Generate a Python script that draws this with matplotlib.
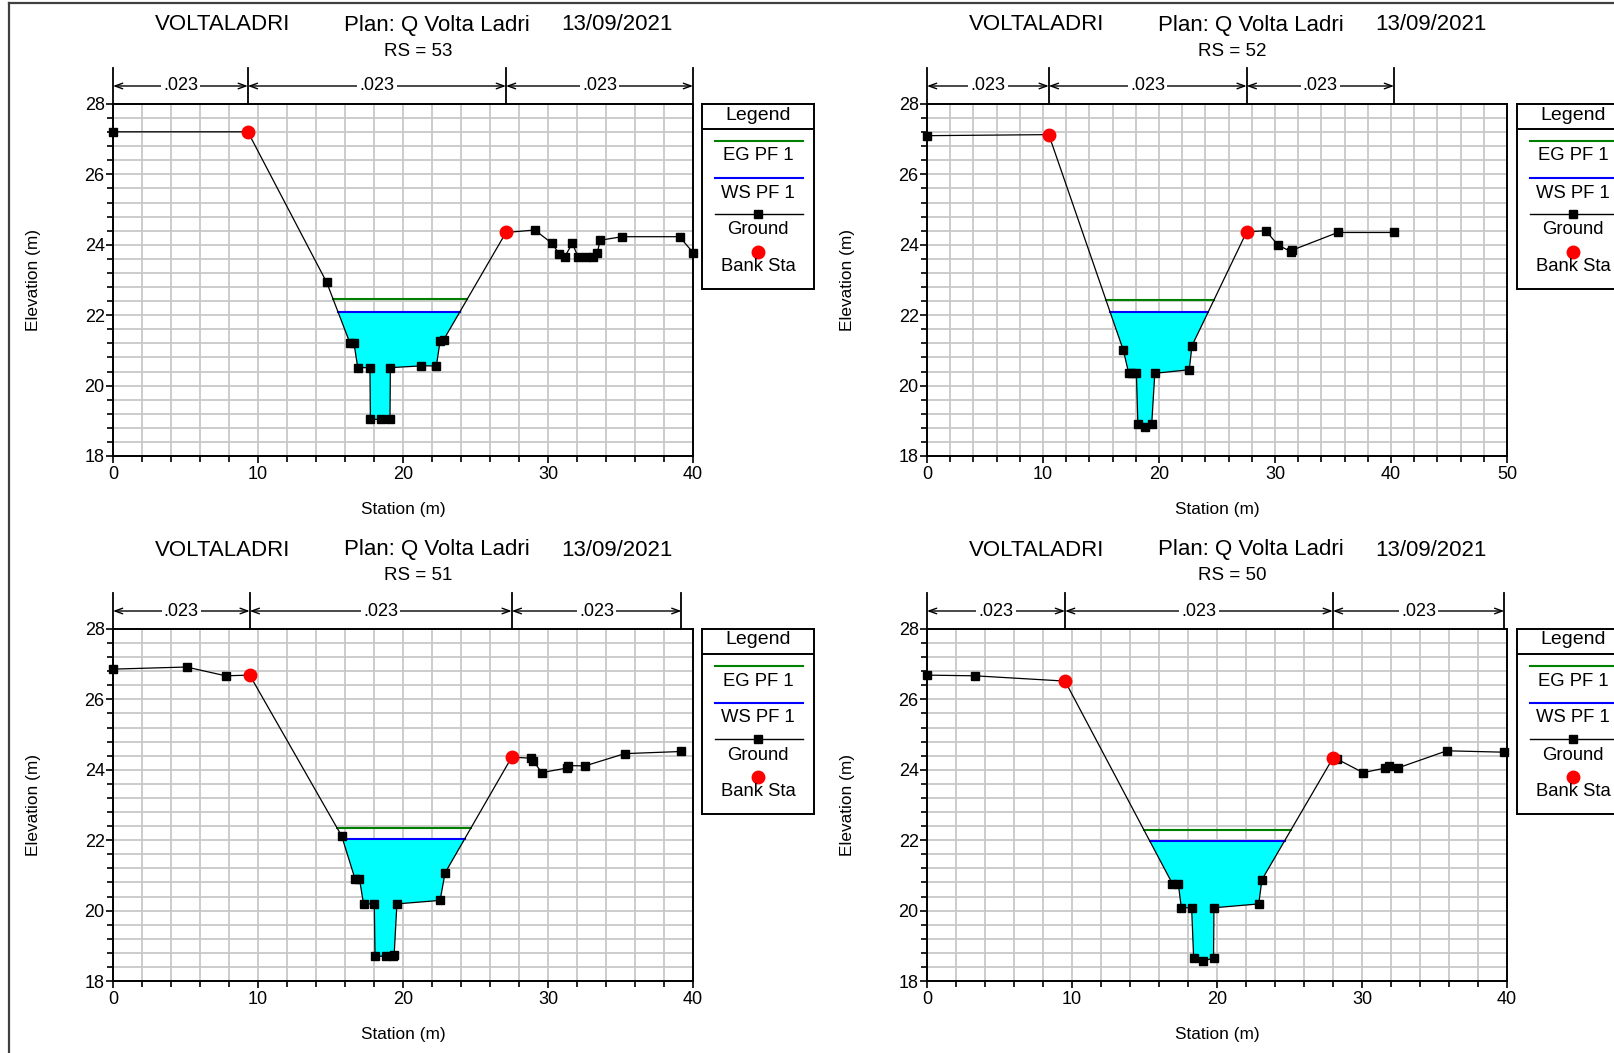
import numpy as np
import matplotlib
matplotlib.use("Agg")
import matplotlib.pyplot as plt
from matplotlib.lines import Line2D

plt.rcParams["font.family"] = ["Liberation Sans", "DejaVu Sans"]

W, H = 1615, 1053

river = "VOLTALADRI"
plan = "Plan: Q Volta Ladri"
run_date = "13/09/2021"
manning_n = ".023"

# Cross-section RS = 53
rs53_sta = [0, 9.30, 14.74, 16.35, 16.62, 16.88, 17.72, 17.75, 18.47, 19.10, 19.13,
            21.24, 22.30, 22.56, 22.80, 27.10, 29.09, 30.28, 30.75, 31.15, 31.68,
            32.07, 32.60, 33.13, 33.40, 33.60, 35.11, 39.07, 40.00]
rs53_elev = [27.21, 27.21, 22.93, 21.20, 21.20, 20.51, 20.51, 19.04, 19.04, 19.04, 20.51,
             20.56, 20.56, 21.27, 21.30, 24.35, 24.42, 24.04, 23.75, 23.66, 24.04,
             23.66, 23.66, 23.66, 23.78, 24.13, 24.23, 24.23, 23.78]
rs53_banks = [9.30, 27.10]
rs53_ws, rs53_eg = 22.10, 22.45

# Cross-section RS = 52
rs52_sta = [0, 10.50, 16.93, 17.39, 17.70, 18.05, 18.18, 18.81, 19.37, 19.64, 22.61,
            22.84, 27.56, 29.21, 30.26, 31.42, 31.50, 35.41, 40.26]
rs52_elev = [27.10, 27.13, 21.00, 20.35, 20.35, 20.35, 18.90, 18.82, 18.90, 20.35, 20.45,
             21.13, 24.37, 24.40, 23.99, 23.80, 23.85, 24.35, 24.35]
rs52_banks = [10.50, 27.56]
rs52_ws, rs52_eg = 22.10, 22.42

# Cross-section RS = 51
rs51_sta = [0, 5.07, 7.77, 9.43, 15.77, 16.70, 17.00, 17.28, 18.02, 18.07, 18.81, 19.30,
            19.39, 19.58, 22.56, 22.90, 27.50, 28.82, 29.00, 29.56, 31.30, 31.41,
            32.55, 35.30, 39.20]
rs51_elev = [26.86, 26.92, 26.67, 26.69, 22.12, 20.89, 20.89, 20.19, 20.19, 18.71, 18.70,
             18.72, 18.74, 20.19, 20.29, 21.07, 24.36, 24.33, 24.25, 23.92, 24.05,
             24.12, 24.11, 24.46, 24.52]
rs51_banks = [9.43, 27.50]
rs51_ws, rs51_eg = 22.04, 22.35

# Cross-section RS = 50
rs50_sta = [0, 3.31, 9.52, 16.93, 17.33, 17.54, 18.25, 18.39, 19.05, 19.76, 19.79,
            22.88, 23.10, 27.99, 28.30, 30.08, 31.61, 31.88, 32.46, 35.85, 39.81]
rs50_elev = [26.69, 26.67, 26.52, 20.76, 20.76, 20.08, 20.08, 18.65, 18.57, 18.65, 20.08,
             20.19, 20.88, 24.33, 24.30, 23.92, 24.05, 24.10, 24.05, 24.54, 24.50]
rs50_banks = [9.52, 27.99]
rs50_ws, rs50_eg = 21.98, 22.30

panels = [
    dict(rs="53", sta=rs53_sta, elev=rs53_elev, banks=rs53_banks, ws=rs53_ws, eg=rs53_eg,
         xmax=40, ax_box=(113, 104, 693, 456), leg_x=702, dx=0, dy=0),
    dict(rs="52", sta=rs52_sta, elev=rs52_elev, banks=rs52_banks, ws=rs52_ws, eg=rs52_eg,
         xmax=50, ax_box=(927, 104, 1507, 456), leg_x=1517, dx=814, dy=0),
    dict(rs="51", sta=rs51_sta, elev=rs51_elev, banks=rs51_banks, ws=rs51_ws, eg=rs51_eg,
         xmax=40, ax_box=(113, 629, 693, 981), leg_x=702, dx=0, dy=525),
    dict(rs="50", sta=rs50_sta, elev=rs50_elev, banks=rs50_banks, ws=rs50_ws, eg=rs50_eg,
         xmax=40, ax_box=(927, 629, 1507, 981), leg_x=1517, dx=814, dy=525),
]


def fig_box(x0, y0, x1, y1):
    return [x0 / W, 1 - y1 / H, (x1 - x0) / W, (y1 - y0) / H]


def waterline(sta, elev, level):
    """Left and right stations where the water level meets the ground."""
    sta = np.asarray(sta, float)
    elev = np.asarray(elev, float)
    i0 = int(np.argmin(elev))
    i = i0
    while i > 0 and elev[i - 1] < level:
        i -= 1
    a, b = i - 1, i
    xl = sta[a] + (level - elev[a]) * (sta[b] - sta[a]) / (elev[b] - elev[a])
    j = i0
    while j < len(sta) - 1 and elev[j + 1] < level:
        j += 1
    a, b = j, j + 1
    xr = sta[a] + (level - elev[a]) * (sta[b] - sta[a]) / (elev[b] - elev[a])
    return xl, xr, i, j


fig = plt.figure(figsize=(W / 100, H / 100), dpi=100)

# outer frame
fig.add_artist(Line2D([9 / W, 9 / W], [0, 1 - 3 / H], transform=fig.transFigure,
                      color="#404040", lw=1.6))
fig.add_artist(Line2D([9 / W, 1], [1 - 3 / H, 1 - 3 / H], transform=fig.transFigure,
                      color="#404040", lw=1.6))

for p in panels:
    x0, y0, x1, y1 = p["ax_box"]
    ax = fig.add_axes(fig_box(x0, y0, x1, y1))
    ax.set_xlim(0, p["xmax"])
    ax.set_ylim(18, 28)
    ax.set_xticks(np.arange(0, p["xmax"] + 0.1, 10))
    ax.set_xticks(np.arange(0, p["xmax"] + 0.1, 2), minor=True)
    ax.set_yticks(np.arange(18, 28.1, 2))
    ax.set_yticks(np.arange(18, 28.01, 0.4), minor=True)
    ax.grid(which="both", color="#c8c8c8", lw=1.3, zorder=0)
    ax.set_axisbelow(True)
    ax.tick_params(which="both", direction="out", width=1.2, labelsize=13)
    ax.tick_params(which="major", length=5)
    ax.tick_params(which="minor", length=4)
    ax.tick_params(axis="y", pad=1)
    ax.tick_params(axis="x", pad=2)
    for s in ax.spines.values():
        s.set_linewidth(1.4)
    ax.set_xlabel("Station (m)", fontsize=12.4, labelpad=14)
    ax.set_ylabel("Elevation (m)", fontsize=12.4, labelpad=31)

    sta = np.asarray(p["sta"], float)
    elev = np.asarray(p["elev"], float)

    # water surface fill and lines
    xl, xr, i, j = waterline(sta, elev, p["ws"])
    px = np.concatenate([[xl], sta[i:j + 1], [xr]])
    py = np.concatenate([[p["ws"]], elev[i:j + 1], [p["ws"]]])
    ax.fill(px, py, color="#00ffff", zorder=2, lw=0)
    ax.plot([xl, xr], [p["ws"], p["ws"]], color="#0000ff", lw=1.5, zorder=3)
    el, er, _, _ = waterline(sta, elev, p["eg"])
    ax.plot([el, er], [p["eg"], p["eg"]], color="#008000", lw=1.5, zorder=3)

    # ground
    ax.plot(sta, elev, color="black", lw=0.9, marker="s", ms=6, mfc="black",
            mec="black", zorder=4, clip_on=False)
    ax.plot(p["banks"], np.interp(p["banks"], sta, elev), "o", color="#ff0000",
            ms=9, zorder=5, clip_on=False)

    # Manning's n brackets
    trans = ax.get_xaxis_transform()
    hpx = y1 - y0
    top = 1 + 36 / hpx
    arr = 1 + 18 / hpx
    bounds = [0, p["banks"][0], p["banks"][1], sta[-1]]
    for xb in bounds:
        ax.plot([xb, xb], [1, top], transform=trans, color="black", lw=1.3,
                clip_on=False)
    for a, b in zip(bounds[:-1], bounds[1:]):
        ax.annotate("", xy=(b, arr), xytext=(a, arr), xycoords=trans, textcoords=trans,
                    arrowprops=dict(arrowstyle="<->,head_length=0.55,head_width=0.2",
                                    color="black", lw=1.0, shrinkA=0, shrinkB=0))
        ax.text((a + b) / 2, arr, manning_n, transform=trans, ha="center",
                va="center", fontsize=13, zorder=6,
                bbox=dict(facecolor="white", edgecolor="none", pad=1.5))

    # titles
    dx, dy = p["dx"], p["dy"]
    fig.text((223 + dx) / W, 1 - (25 + dy) / H, river, ha="center", va="center",
             fontsize=16)
    fig.text((437 + dx) / W, 1 - (25 + dy) / H, plan, ha="center", va="center",
             fontsize=16)
    fig.text((617 + dx) / W, 1 - (25 + dy) / H, run_date, ha="center", va="center",
             fontsize=16)
    fig.text((418 + dx) / W, 1 - (51 + dy) / H, "RS = " + p["rs"], ha="center",
             va="center", fontsize=13.5)

    # legend box
    lx = p["leg_x"]
    lax = fig.add_axes(fig_box(lx, y0, lx + 112, y0 + 185))
    lax.set_xlim(0, 112)
    lax.set_ylim(185, 0)
    lax.set_xticks([])
    lax.set_yticks([])
    for s in lax.spines.values():
        s.set_linewidth(1.4)
    lax.axhline(25, color="black", lw=1.4)
    lax.text(56, 11, "Legend", ha="center", va="center", fontsize=14)
    lax.plot([13, 101], [37, 37], color="#008000", lw=1.5)
    lax.text(56, 52, "EG PF 1", ha="center", va="center", fontsize=13.3)
    lax.plot([13, 101], [74, 74], color="#0000ff", lw=1.5)
    lax.text(56, 89, "WS PF 1", ha="center", va="center", fontsize=13.3)
    lax.plot([13, 101], [110, 110], color="black", lw=1.0)
    lax.plot([56], [110], "s", color="black", ms=6)
    lax.text(56, 126, "Ground", ha="center", va="center", fontsize=13.3)
    lax.plot([56], [148], "o", color="#ff0000", ms=9)
    lax.text(56, 163, "Bank Sta", ha="center", va="center", fontsize=13.3)

fig.savefig("out.png", dpi=100)
